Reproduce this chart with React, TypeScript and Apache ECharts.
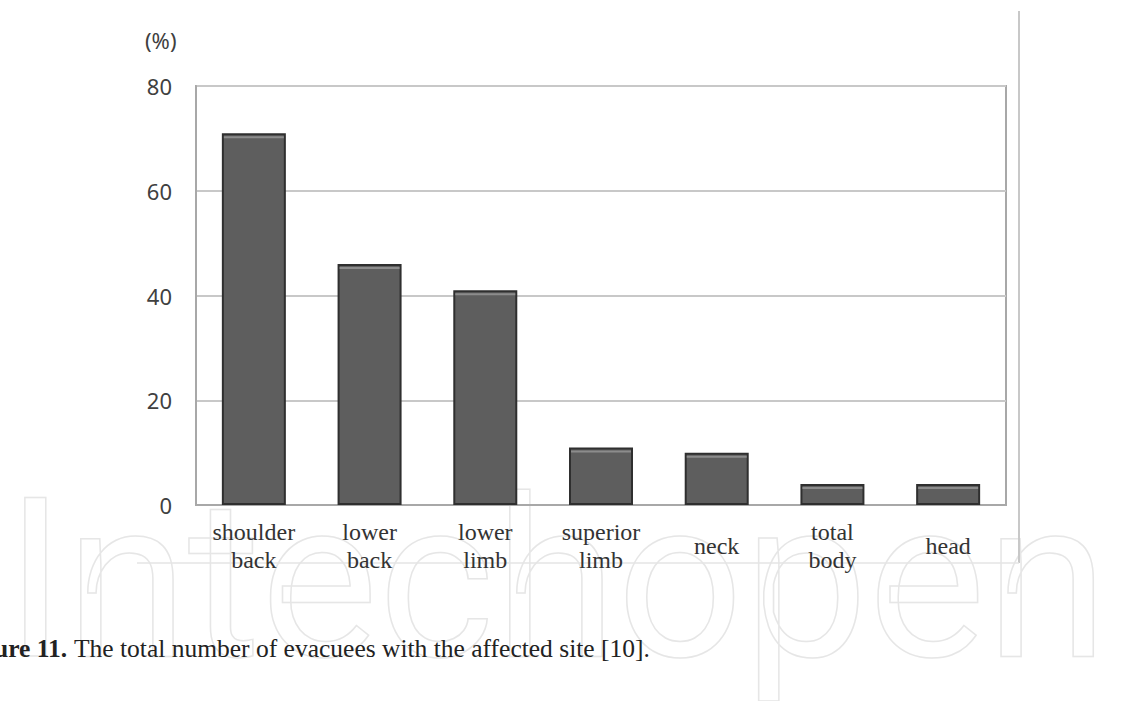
import React, { useEffect, useRef } from 'react';
import * as echarts from 'echarts';

const categories = ['shoulder\nback', 'lower\nback', 'lower\nlimb', 'superior\nlimb', 'neck', 'total\nbody', 'head'];
const values = [71, 46, 41, 11, 10, 4, 4];
const yMin = 0;
const yMax = 80;
const yStep = 20;
const unitLabel = '(%)';
const captionLead = 'ure 11.';
const captionText = 'The total number of evacuees with the affected site [10].';
const watermarkText = 'Intechopen';

export default function App() {
  const ref = useRef<HTMLDivElement>(null);

  useEffect(() => {
    if (!ref.current) return;
    const chart = echarts.init(ref.current, null, { renderer: 'svg' });
    const option: any = {
      animation: false,
      backgroundColor: '#ffffff',
      grid: {
        left: 196,
        right: 137,
        top: 86,
        bottom: 196,
        containLabel: false,
        show: true,
        borderColor: '#a8a8a8',
        borderWidth: 2,
        backgroundColor: 'transparent',
      },
      xAxis: {
        type: 'category',
        data: categories,
        axisTick: { show: false },
        axisLine: { show: true, lineStyle: { color: '#a8a8a8', width: 2 } },
        axisLabel: {
          interval: 0,
          fontFamily: 'Liberation Serif',
          fontSize: 24,
          color: '#333333',
          lineHeight: 28,
          verticalAlign: 'middle',
          margin: 41,
        },
      },
      yAxis: {
        type: 'value',
        min: yMin,
        max: yMax,
        interval: yStep,
        axisLine: { show: true, lineStyle: { color: '#a8a8a8', width: 2 } },
        axisTick: { show: false },
        splitLine: { lineStyle: { color: '#c8c8c8', width: 2 } },
        axisLabel: { fontFamily: 'Noto Sans', fontSize: 22, color: '#404040', margin: 24 },
      },
      series: [
        {
          type: 'bar',
          data: values,
          barWidth: 64,
          itemStyle: { color: '#5e5e5e', borderColor: '#2f2f2f', borderWidth: 2 },
          z: 2,
        },
        {
          type: 'custom',
          silent: true,
          z: 3,
          data: values.map((v, i) => [i, v]),
          renderItem: (params: any, api: any) => {
            const top = api.coord([api.value(0), api.value(1)]);
            return {
              type: 'rect',
              shape: { x: top[0] - 30, y: top[1] + 3, width: 60, height: 2 },
              style: { fill: '#8c8c8c' },
            };
          },
        },
      ],
      graphic: [
        {
          type: 'text',
          silent: true,
          z: -10,
          x: 5,
          y: 580,
          style: {
            text: watermarkText,
            fontFamily: 'Roboto',
            fontSize: 222,
            fill: 'none',
            stroke: '#e6e6e6',
            lineWidth: 1.5,
            verticalAlign: 'middle',
          },
        },
        {
          type: 'line',
          silent: true,
          shape: { x1: 1019, y1: 11, x2: 1019, y2: 563 },
          style: { stroke: '#c8c8c8', lineWidth: 2 },
        },
        {
          type: 'line',
          silent: true,
          shape: { x1: 137, y1: 563, x2: 1019, y2: 563 },
          style: { stroke: '#e4e4e4', lineWidth: 1.5 },
        },
        {
          type: 'text',
          x: 145,
          y: 40,
          style: {
            text: unitLabel,
            fontFamily: 'Noto Sans',
            fontSize: 22,
            fill: '#404040',
            verticalAlign: 'middle',
          },
        },
        {
          type: 'text',
          x: -6,
          y: 648,
          style: {
            text: captionLead,
            fontFamily: 'Liberation Serif',
            fontWeight: 'bold',
            fontSize: 25.5,
            fill: '#222222',
            verticalAlign: 'middle',
          },
        },
        {
          type: 'text',
          x: 74,
          y: 648,
          style: {
            text: captionText,
            fontFamily: 'Liberation Serif',
            fontSize: 25.5,
            fill: '#222222',
            verticalAlign: 'middle',
          },
        },
      ],
    };
    chart.setOption(option);
    return () => chart.dispose();
  }, []);

  return (
    <div
      ref={ref}
      style={{ position: 'fixed', left: 0, top: 0, width: 1143, height: 701 }}
    />
  );
}
